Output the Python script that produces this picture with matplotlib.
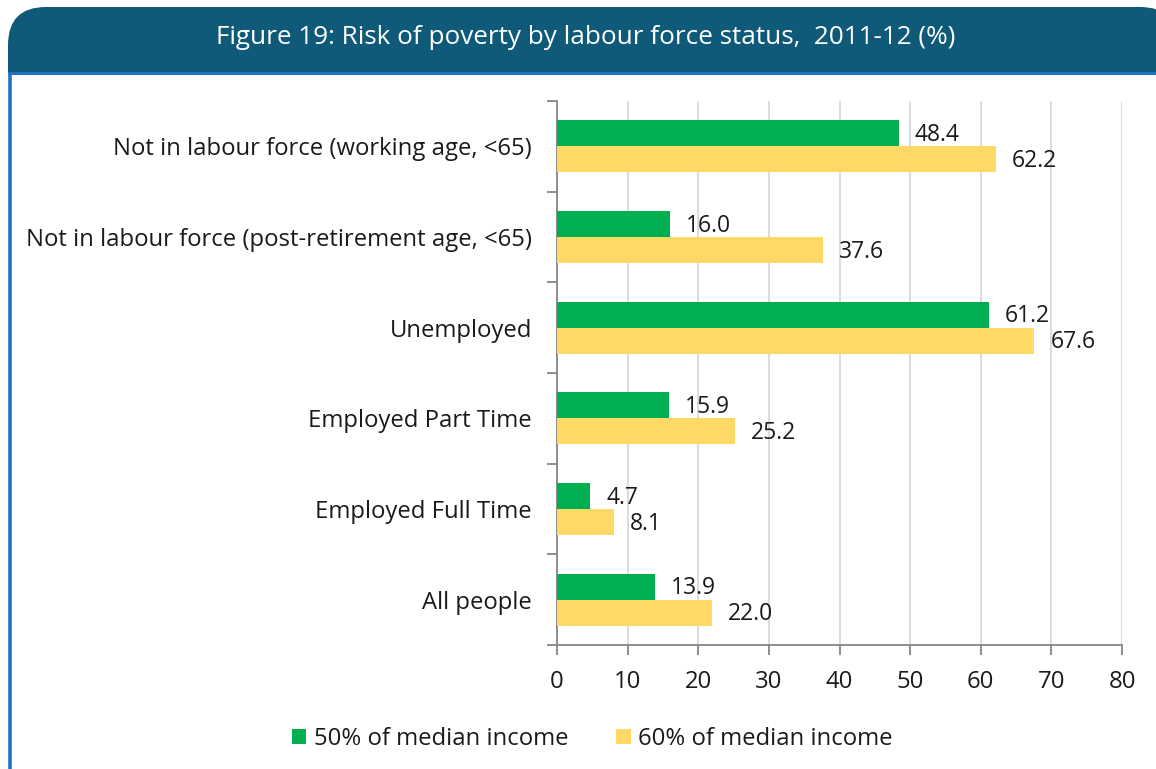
import matplotlib
matplotlib.use("Agg")
import matplotlib.pyplot as plt
import numpy as np
from matplotlib.patches import FancyBboxPatch, Rectangle

plt.rcParams['font.family'] = ['Open Sans', 'DejaVu Sans']
plt.rcParams['text.color'] = '#1a1a1a'
plt.rcParams['xtick.labelcolor'] = '#1a1a1a'
plt.rcParams['ytick.labelcolor'] = '#1a1a1a'

# risk of poverty by labour force status, 2011-12 (%)
categories = [
    "Not in labour force (working age, <65)",
    "Not in labour force (post-retirement age, <65)",
    "Unemployed",
    "Employed Part Time",
    "Employed Full Time",
    "All people",
]
median50 = [48.4, 16.0, 61.2, 15.9, 4.7, 13.9]
median60 = [62.2, 37.6, 67.6, 25.2, 8.1, 22.0]
series_names = ["50% of median income", "60% of median income"]

GREEN = "#00b050"
YELLOW = "#ffd966"
HEADER = "#0f5a78"
EDGE_BLUE = "#1f72c2"

W, H = 1156, 769
fig = plt.figure(figsize=(W / 100, H / 100), dpi=100)

# frame: header band with rounded top corners, blue rule and left border
bg = fig.add_axes([0, 0, 1, 1])
bg.set_xlim(0, W)
bg.set_ylim(H, 0)
bg.axis("off")
bg.add_patch(FancyBboxPatch((8, 7), 1170, 120, boxstyle="round,pad=0,rounding_size=38",
                            facecolor=HEADER, edgecolor="none"))
bg.add_patch(Rectangle((0, 73), W, H, facecolor="white", edgecolor="none"))
bg.plot([8, W], [72.5, 72.5], color=EDGE_BLUE, lw=2.2, solid_capstyle="butt")
bg.plot([9.5, 9.5], [72, H], color=EDGE_BLUE, lw=2.6, solid_capstyle="butt")
bg.text(586, 38, "Figure 19: Risk of poverty by labour force status,  2011-12 (%)",
        color="white", fontsize=18.8, ha="center", va="center")

# bar chart
ax = fig.add_axes([557 / W, 1 - 645 / H, (1122 - 557) / W, (645 - 101) / H])
n = len(categories)
y = np.arange(n)
h = 0.287
ax.barh(y - h / 2, median50, height=h, color=GREEN, label=series_names[0], zorder=3)
ax.barh(y + h / 2, median60, height=h, color=YELLOW, label=series_names[1], zorder=3)

for yi, v in zip(y, median50):
    ax.text(v + 2.25, yi - h / 2 + 0.02, f"{v:.1f}", va="center", ha="left", fontsize=16.5)
for yi, v in zip(y, median60):
    ax.text(v + 2.25, yi + h / 2 + 0.02, f"{v:.1f}", va="center", ha="left", fontsize=16.5)

ax.set_xlim(0, 80)
ax.set_ylim(n - 0.5, -0.5)
ax.set_xticks(np.arange(0, 81, 10))
ax.set_yticks(y)
ax.set_yticklabels(categories)
ax.set_yticks(np.arange(-0.5, n, 1), minor=True)
ax.tick_params(axis="y", which="major", length=0, pad=18, labelsize=17.2)
ax.tick_params(axis="y", which="minor", length=7, width=1.3, color="#868686")
ax.tick_params(axis="x", length=7, width=1.3, color="#868686", labelsize=17.2, pad=11)
ax.grid(axis="x", color="#d9d9d9", lw=1.3, zorder=0)
for side in ["top", "right"]:
    ax.spines[side].set_visible(False)
for side in ["left", "bottom"]:
    ax.spines[side].set_color("#868686")
    ax.spines[side].set_linewidth(1.3)

fig.legend(loc="center", bbox_to_anchor=(592 / W, 1 - 739 / H), ncol=2, frameon=False,
           fontsize=17.2, handlelength=0.62, handleheight=0.62, handletextpad=0.3,
           columnspacing=2.0, borderpad=0)

fig.savefig("out.png", dpi=100)
